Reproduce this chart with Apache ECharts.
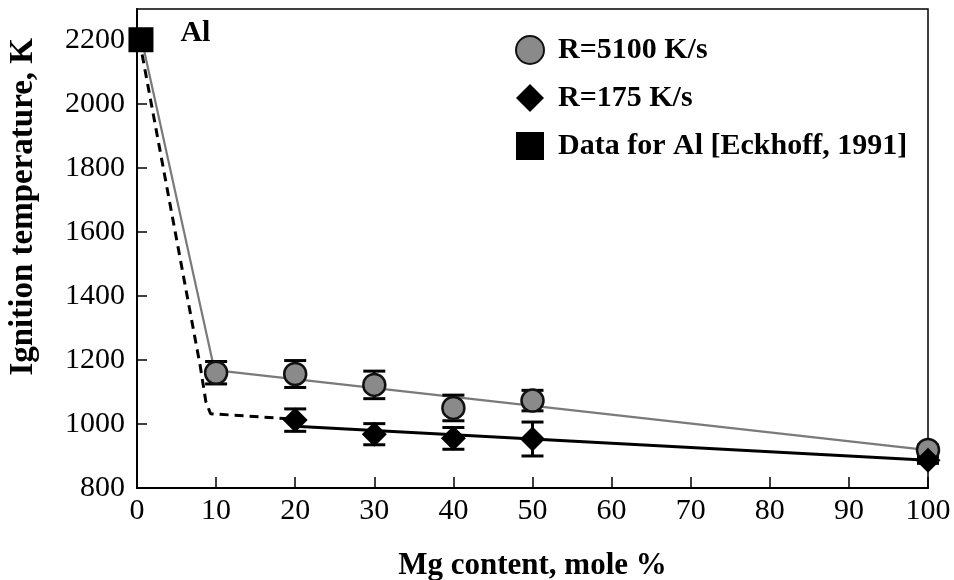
<!DOCTYPE html>
<html>
<head>
    <meta charset="utf-8">
    <title>Ignition temperature</title>
    <script src="https://cdn.jsdelivr.net/npm/echarts@6/dist/echarts.min.js"></script>
    <style>
        html, body {margin: 0; padding: 0; background: #fff;}
        #chart {width: 954px; height: 580px;}
    </style>
</head>
<body>
<div id="chart"></div>
<script>
    // values
    var mgContent = [10, 20, 30, 40, 50, 100];
    var fastTemp = [1160, 1156, 1122, 1050, 1073, 919];     // R=5100 K/s
    var fastErr = [35, 42, 43, 40, 32, 15];
    var slowMg = [20, 30, 40, 50, 100];
    var slowTemp = [1012, 968, 955, 953, 887];               // R=175 K/s
    var slowErr = [35, 33, 34, 53, 10];
    var alPoint = [[0.5, 2200]];                             // Data for Al [Eckhoff, 1991]
    var fastFit = [[0.6, 2200], [9.8, 1168], [100, 918]];
    var slowFitDash = [[0.3, 2200], [8, 1180], [8.7, 1070], [9.3, 1032], [20, 1015]];
    var slowFit = [[20, 993], [100, 887]];
    var yTicks = [800, 1000, 1200, 1400, 1600, 1800, 2000, 2200];

    var font = "'Liberation Serif', 'Times New Roman', serif";

    function pairs(xs, ys) {
        return xs.map(function (x, i) { return [x, ys[i]]; });
    }
    function withErr(xs, ys, es) {
        return xs.map(function (x, i) { return [x, ys[i], es[i]]; });
    }

    function errorBars(params, api) {
        var x = api.value(0), y = api.value(1), e = api.value(2);
        var hi = api.coord([x, y + e]);
        var lo = api.coord([x, y - e]);
        var w = 11;
        var st = {stroke: '#000', lineWidth: 3};
        return {
            type: 'group',
            children: [
                {type: 'line', shape: {x1: hi[0], y1: hi[1], x2: lo[0], y2: lo[1]}, style: st},
                {type: 'line', shape: {x1: hi[0] - w, y1: hi[1], x2: hi[0] + w, y2: hi[1]}, style: st},
                {type: 'line', shape: {x1: lo[0] - w, y1: lo[1], x2: lo[0] + w, y2: lo[1]}, style: st}
            ]
        };
    }

    var chart = echarts.init(document.getElementById('chart'));
    var option = {
        backgroundColor: '#fff',
        animation: false,
        textStyle: {fontFamily: font, color: '#000'},
        grid: {
            left: 137, right: 26, top: 9, bottom: 92,
            containLabel: false, outerBoundsMode: 'none',
            show: true, borderColor: '#000', borderWidth: 1.5
        },
        legend: {
            orient: 'vertical',
            left: 510,
            top: 30,
            itemWidth: 28,
            itemHeight: 28,
            itemGap: 18,
            textStyle: {
                fontFamily: font, fontSize: 30, fontWeight: 'bold', color: '#000',
                lineHeight: 30, padding: [0, 0, 0, 9]
            },
            data: [
                {name: 'R=5100 K/s', icon: 'circle'},
                {name: 'R=175 K/s', icon: 'diamond'},
                {name: 'Data for Al [Eckhoff, 1991]', icon: 'rect'}
            ]
        },
        xAxis: {
            type: 'value',
            min: 0,
            max: 100,
            interval: 10,
            name: 'Mg content, mole %',
            nameLocation: 'middle',
            nameGap: 62,
            nameTextStyle: {fontFamily: font, fontSize: 31, fontWeight: 'bold', color: '#000'},
            axisLine: {lineStyle: {color: '#000', width: 2}},
            axisTick: {inside: true, length: 11, lineStyle: {color: '#000', width: 1.5}},
            axisLabel: {fontFamily: font, fontSize: 30, color: '#000', margin: 8},
            splitLine: {show: false}
        },
        yAxis: {
            type: 'value',
            min: 800,
            max: 2296,
            interval: 200,
            axisLine: {show: true, lineStyle: {color: '#000', width: 2}},
            axisTick: {show: true, inside: true, length: 10, lineStyle: {color: '#000', width: 1.5}},
            axisLabel: {
                fontFamily: font, fontSize: 30, color: '#000', margin: 12,
                showMaxLabel: false,
                formatter: function (v) { return yTicks.indexOf(v) >= 0 ? String(v) : ''; }
            },
            splitLine: {show: false}
        },
        graphic: [{
            type: 'text',
            left: 7,
            top: 38,
            rotation: Math.PI / 2,
            style: {
                text: 'Ignition temperature, K',
                font: 'bold 33px ' + font,
                fill: '#000'
            }
        }],
        series: [
            {
                type: 'line', data: fastFit, symbol: 'none', silent: true, z: 1,
                lineStyle: {color: '#7a7a7a', width: 2.2}
            },
            {
                type: 'line', data: slowFitDash, symbol: 'none', silent: true, z: 1,
                lineStyle: {color: '#000', width: 3, type: [9, 6]}
            },
            {
                type: 'line', data: slowFit, symbol: 'none', silent: true, z: 1,
                lineStyle: {color: '#000', width: 3}
            },
            {
                type: 'custom', renderItem: errorBars, data: withErr(mgContent, fastTemp, fastErr),
                z: 2, clip: false
            },
            {
                type: 'custom', renderItem: errorBars, data: withErr(slowMg, slowTemp, slowErr),
                z: 2, clip: false
            },
            {
                name: 'R=5100 K/s', type: 'scatter', data: pairs(mgContent, fastTemp),
                symbol: 'circle', symbolSize: 22, z: 3, clip: false,
                itemStyle: {color: '#8a8a8a', borderColor: '#111', borderWidth: 2.5, opacity: 1}
            },
            {
                name: 'R=175 K/s', type: 'scatter', data: pairs(slowMg, slowTemp),
                symbol: 'diamond', symbolSize: [25, 25], z: 3, clip: false,
                itemStyle: {color: '#000', opacity: 1}
            },
            {
                name: 'Data for Al [Eckhoff, 1991]', type: 'scatter', data: alPoint,
                symbol: 'rect', symbolSize: 25, z: 3, clip: false,
                itemStyle: {color: '#000', opacity: 1},
                label: {
                    show: true, position: 'right', distance: 27, offset: [0, -6],
                    formatter: 'Al', fontFamily: font, fontSize: 30, fontWeight: 'bold', color: '#000'
                }
            }
        ]
    };
    chart.setOption(option);
</script>
</body>
</html>
